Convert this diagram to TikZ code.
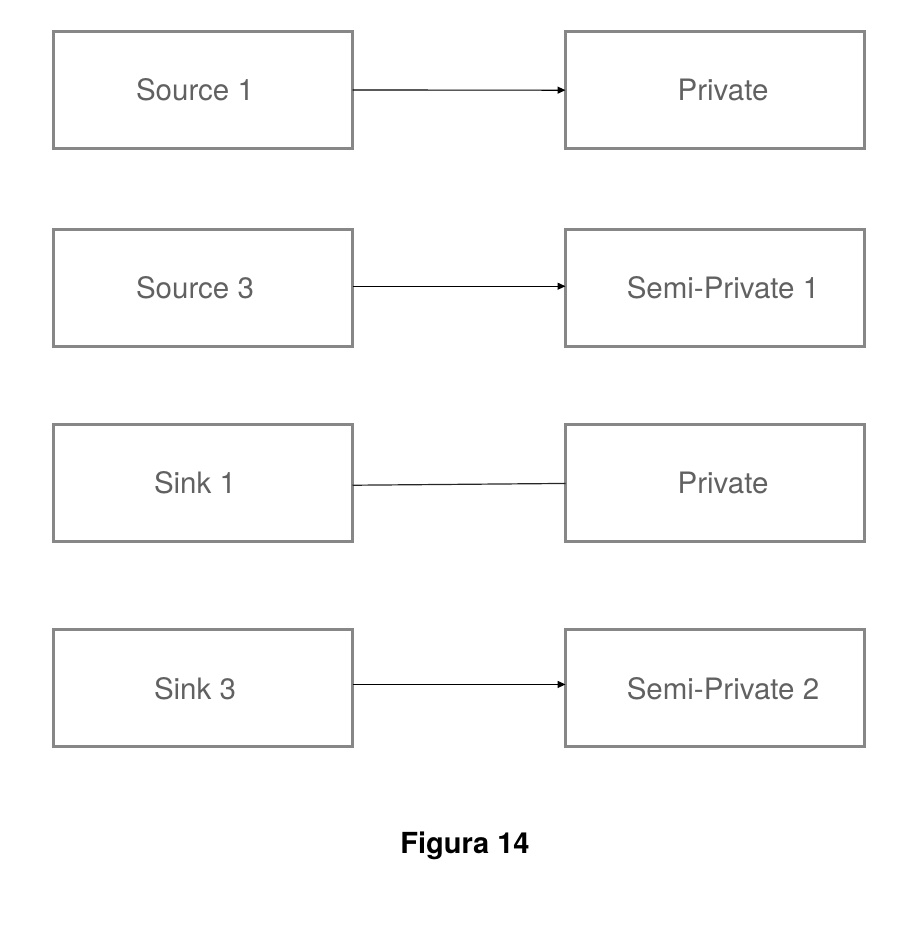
\documentclass[tikz,border=0pt]{standalone}
\usepackage{fontspec}
\setmainfont{TeX Gyre Heros}
\usepackage{xcolor}
\usetikzlibrary{arrows.meta}
\usetikzlibrary{matrix}
\colorlet{boxgray}{black!47}
\colorlet{textgray}{black!62}
\tikzstyle{box}=[draw=boxgray,line width=3pt,minimum width=299pt,minimum height=117pt,
  text=textgray,font=\fontsize{29.5}{32}\selectfont]
\tikzstyle{conn}=[line width=1.2pt,-{Triangle[length=8pt,width=7pt]}]
\tikzstyle{plain}=[line width=1.2pt,black!85]

\begin{document}
\begin{tikzpicture}
	\useasboundingbox (0,0) rectangle (918pt,-948pt);
	\matrix (m) [matrix of nodes, nodes={box}, inner sep=0pt, outer sep=0pt,
	  anchor=north west, column sep=210pt,
	  column 1/.style={nodes={execute at end node=\hspace*{16pt}}},
	  column 2/.style={nodes={execute at begin node=\hspace*{16pt}}}] at (52pt,-30pt) {
	  Source 1 & Private \\[78pt]
	  Source 3 & Semi-Private 1 \\[75pt]
	  Sink 1 & Private \\[85pt]
	  Sink 3 & Semi-Private 2 \\
	};
	\draw[conn]  (m-1-1) -- (m-1-2);
	\draw[conn]  ([yshift=2pt]m-2-1.east) -- ([yshift=2pt]m-2-2.west);
	\draw[plain] ([yshift=-2pt]m-3-1.east) -- (m-3-2.west);
	\draw[conn]  ([yshift=4pt]m-4-1.east) -- ([yshift=4pt]m-4-2.west);
	\node[font=\fontsize{29}{32}\selectfont\bfseries] (cap) at (465pt,-846pt) {Figura 14};
\end{tikzpicture}
\end{document}
